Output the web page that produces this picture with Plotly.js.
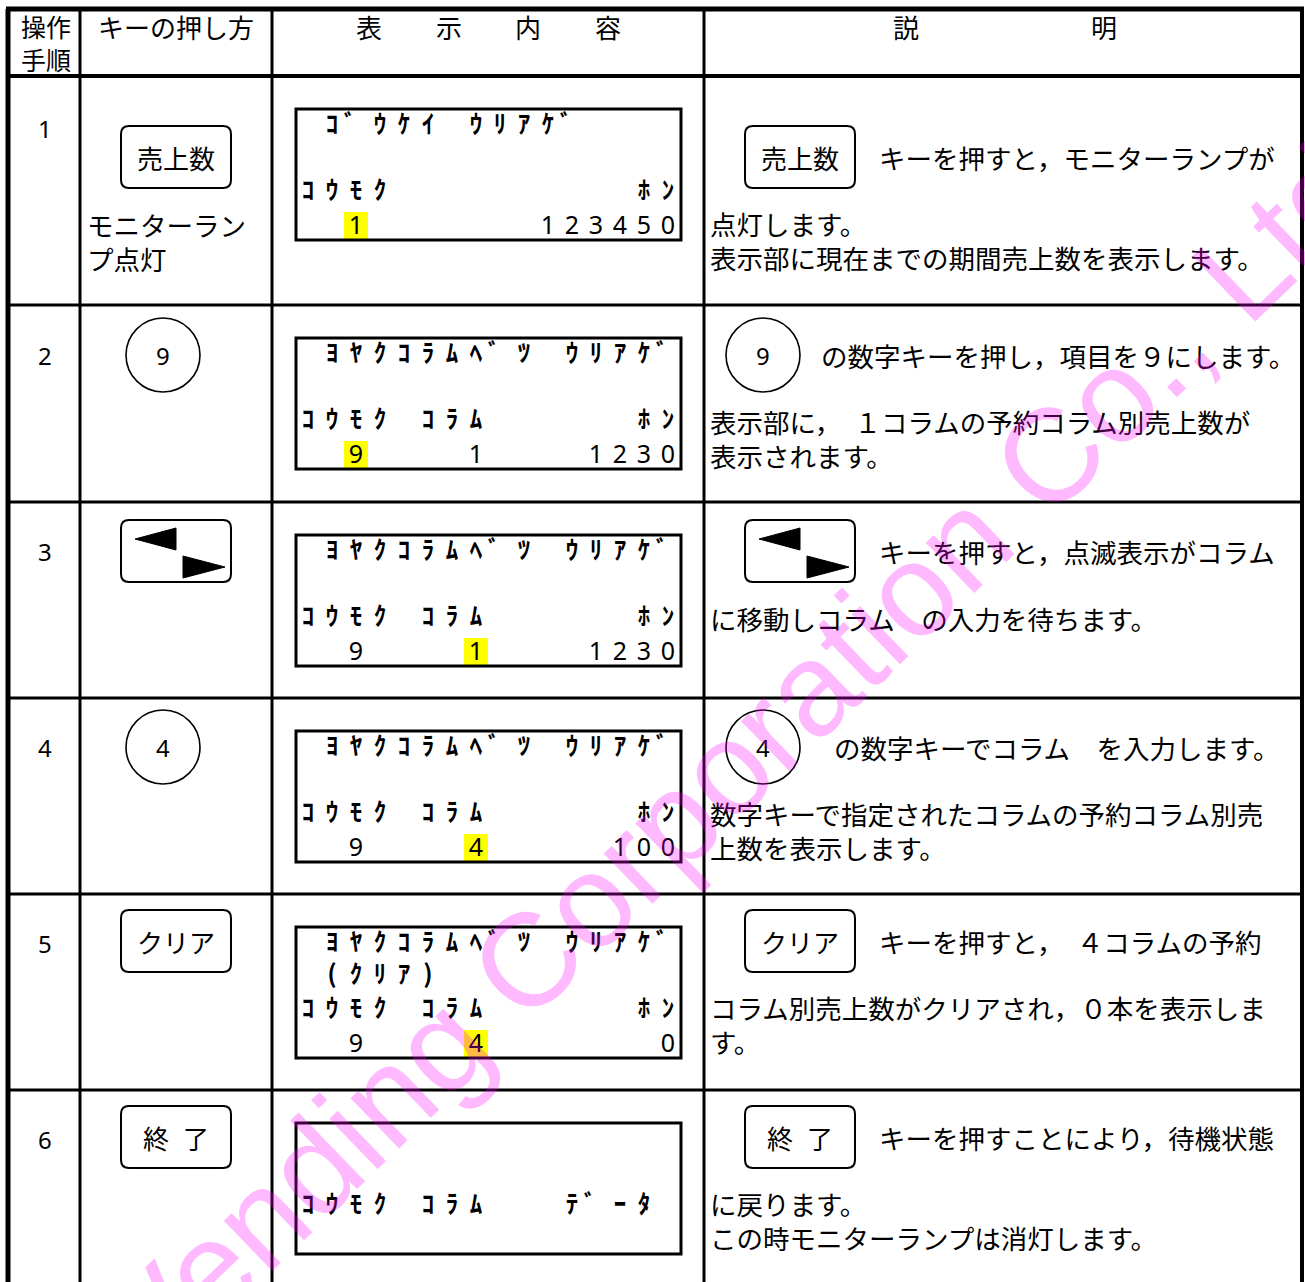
<!DOCTYPE html>
<html><head><meta charset="utf-8">
<script src="https://cdn.plot.ly/plotly-3.0.1.min.js"></script>
<style>html,body{margin:0;padding:0;background:#fff;} #chart{width:1305px;height:1282px;}</style>
</head><body><div id="chart"></div>
<script>
// ---------- data ----------
const steps = ['1','2','3','4','5','6'];
const headerStep = ['操作','手順'];
const headerKey = 'キーの押し方';
const headerDisplay = ['表','示','内','容'];
const headerDesc = ['説','明'];
const keyTypes = ['rect','circle','arrows','circle','rect','rect'];
const keyLabels = ['売上数','9','','4','クリア','終 了'];
const keyNotes = [['モニターラン','プ点灯'],[],[],[],[],[]];
const lcdLines = [
  [' ｺﾞｳｹｲ ｳﾘｱｹﾞ', '', 'ｺｳﾓｸ          ﾎﾝ', '  1       123450'],
  [' ﾖﾔｸｺﾗﾑﾍﾞﾂ ｳﾘｱｹﾞ', '', 'ｺｳﾓｸ ｺﾗﾑ      ﾎﾝ', '  9    1    1230'],
  [' ﾖﾔｸｺﾗﾑﾍﾞﾂ ｳﾘｱｹﾞ', '', 'ｺｳﾓｸ ｺﾗﾑ      ﾎﾝ', '  9    1    1230'],
  [' ﾖﾔｸｺﾗﾑﾍﾞﾂ ｳﾘｱｹﾞ', '', 'ｺｳﾓｸ ｺﾗﾑ      ﾎﾝ', '  9    4     100'],
  [' ﾖﾔｸｺﾗﾑﾍﾞﾂ ｳﾘｱｹﾞ', ' (ｸﾘｱ)', 'ｺｳﾓｸ ｺﾗﾑ      ﾎﾝ', '  9    4       0'],
  ['', '', 'ｺｳﾓｸ ｺﾗﾑ   ﾃﾞｰﾀ', '']
];
const blinkLine = [3,3,3,3,3,null];
const blinkCol  = [2,2,7,7,7,null];
const descFirst = [
  'キーを押すと，モニターランプが',
  'の数字キーを押し，項目を９にします。',
  'キーを押すと，点滅表示がコラム',
  'の数字キーでコラム　を入力します。',
  'キーを押すと，　４コラムの予約',
  'キーを押すことにより，待機状態'
];
const descRest = [
  ['点灯します。','表示部に現在までの期間売上数を表示します。'],
  ['表示部に，　１コラムの予約コラム別売上数が','表示されます。'],
  ['に移動しコラム　の入力を待ちます。'],
  ['数字キーで指定されたコラムの予約コラム別売','上数を表示します。'],
  ['コラム別売上数がクリアされ，０本を表示しま','す。'],
  ['に戻ります。','この時モニターランプは消灯します。']
];
const watermark = 'Vending Corporation Co., Ltd';

// ---------- geometry ----------
const W = 1305, H = 1282;
const JP = 'Noto Sans CJK JP';
const colX = [8, 80, 272, 704, 1302];
const colW = [5, 3, 3, 3, 4];
const rowTop = [76, 305, 502, 698, 894, 1090];
const keyRectCx = 176, keyCircleCx = 163;
const keyY = [157, 355, 551, 747, 941, 1137];
const stepY = [128, 355, 551, 747, 943, 1139];
const lcdX0 = 296, lcdX1 = 681, lcdTopOff = 33, lcdH = 131;
const cellX0 = 308, cellW = 24;
const lineOff = [20, 52, 86, 119];
const descKeyCx = 800, descCircleCx = 763;
const descFirstX = [878, 820, 878, 833, 878, 878];
const descX = 709;
const boxW = 110, boxH = 62, circR = 37;
const DS = 26.5, LH = 32;

const shapes = [];
const annotations = [];

function line(x0,y0,x1,y1,w){ shapes.push({type:'line',xref:'x',yref:'y',x0,y0,x1,y1,line:{color:'#000',width:w}}); }
function rrect(cx,cy,w,h,r){
  const x0=cx-w/2,x1=cx+w/2,y0=cy-h/2,y1=cy+h/2;
  const p=`M ${x0+r},${y0} L ${x1-r},${y0} Q ${x1},${y0} ${x1},${y0+r} L ${x1},${y1-r} Q ${x1},${y1} ${x1-r},${y1} L ${x0+r},${y1} Q ${x0},${y1} ${x0},${y1-r} L ${x0},${y0+r} Q ${x0},${y0} ${x0+r},${y0} Z`;
  shapes.push({type:'path',xref:'x',yref:'y',path:p,line:{color:'#000',width:2},fillcolor:'rgba(0,0,0,0)'});
}
function circle(cx,cy,r){ shapes.push({type:'circle',xref:'x',yref:'y',x0:cx-r,x1:cx+r,y0:cy-r,y1:cy+r,line:{color:'#000',width:1.6}}); }
function tri(pts){ shapes.push({type:'path',xref:'x',yref:'y',path:'M '+pts.map(p=>p.join(',')).join(' L ')+' Z',fillcolor:'#000',line:{color:'#000',width:1}}); }
function text(x,y,t,opt){
  opt = opt||{};
  annotations.push({xref:'x',yref:'y',x,y,text:t,showarrow:false,xanchor:opt.xa||'center',yanchor:'middle',align:opt.xa||'center',
    font:{family:opt.family||JP,size:opt.size||26,color:'#000'},borderpad:0});
}
// multi-line block: first line centred near yFirst, lines LH apart in the reference
function block(x,yFirst,lines,opt){
  if(!lines.length) return;
  text(x,yFirst+(lines.length-1)*LH/2,lines.join('<br>'),opt);
}
function keyIcon(type,label,cxRect,cxCircle,cy){
  if(type==='circle'){ circle(cxCircle,cy,circR); text(cxCircle,cy,label,{family:'Noto Sans',size:24}); }
  else {
    const cx=cxRect;
    rrect(cx,cy,boxW,boxH,8);
    if(type==='arrows'){
      const x0=cx-boxW/2, y0=cy-boxH/2;
      tri([[x0+14,y0+19],[x0+55,y0+8],[x0+55,y0+30]]);
      tri([[x0+62,y0+36],[x0+62,y0+58],[x0+104,y0+47]]);
    } else if(label.indexOf(' ')>=0){
      const parts=label.split(' ');
      text(cx-20,cy,parts[0]); text(cx+20,cy,parts[1]);
    } else text(cx,cy,label);
  }
}

// grid
for(let i=0;i<colX.length;i++) line(colX[i],9,colX[i],H+5,colW[i]);
line(6,9,1304,9,5);
line(6,76,1304,76,4);
for(let r=1;r<rowTop.length;r++) line(6,rowTop[r],1304,rowTop[r],3);

// header
block(46,26,headerStep,{size:25});
text(176,26,headerKey);
headerDisplay.forEach((c,i)=>text(369+i*79.7,26,c));
headerDesc.forEach((c,i)=>text(906+i*198,26,c));

const kx=[],ky=[],kt=[],dx=[],dy=[],dt=[];
steps.forEach((s,r)=>{
  text(45,stepY[r],s,{family:'Noto Sans',size:24});
  keyIcon(keyTypes[r],keyLabels[r],keyRectCx,keyCircleCx,keyY[r]);
  block(86,keyY[r]+68,keyNotes[r],{xa:'left',size:DS});
  const bt=rowTop[r]+lcdTopOff;
  shapes.push({type:'rect',xref:'x',yref:'y',x0:lcdX0,x1:lcdX1,y0:bt,y1:bt+lcdH,line:{color:'#000',width:3}});
  if(blinkLine[r]!==null){
    const cx=cellX0+cellW*blinkCol[r], cy=bt+lineOff[blinkLine[r]]-1;
    shapes.push({type:'rect',xref:'x',yref:'y',layer:'below',x0:cx-12,x1:cx+12,y0:cy-15,y1:cy+14,fillcolor:'#ffff00',line:{width:0}});
  }
  lcdLines[r].forEach((ln,li)=>{
    Array.from(ln).forEach((ch,ci)=>{
      if(ch===' ') return;
      let x=cellX0+cellW*ci, y=bt+lineOff[li];
      if(/[0-9]/.test(ch)){ dx.push(x); dy.push(y); dt.push(ch); }
      else { if(ch==='ﾞ') x-=6; kx.push(x); ky.push(y-2); kt.push(ch); }
    });
  });
  // description
  keyIcon(keyTypes[r],keyLabels[r],descKeyCx,descCircleCx,keyY[r]);
  text(descFirstX[r],keyY[r],descFirst[r],{xa:'left',size:DS});
  block(descX,keyY[r]+67,descRest[r],{xa:'left',size:DS});
});

annotations.push({xref:'x',yref:'y',x:735,y:760,text:watermark,showarrow:false,textangle:-44,
  font:{family:'Liberation Sans',size:132,color:'#ff00ff'},opacity:0.27,xanchor:'center',yanchor:'middle'});

const traces=[
  {type:'scatter',mode:'text',x:kx,y:ky,text:kt,textposition:'middle center',cliponaxis:false,hoverinfo:'skip',
   textfont:{family:JP,size:25,weight:700,color:'#000'},showlegend:false},
  {type:'scatter',mode:'text',x:dx,y:dy,text:dt,textposition:'middle center',cliponaxis:false,hoverinfo:'skip',
   textfont:{family:'Noto Sans',size:25,color:'#000'},showlegend:false}
];

const layout={width:W,height:H,margin:{l:0,r:0,t:0,b:0},paper_bgcolor:'#fff',plot_bgcolor:'#fff',
  xaxis:{range:[0,W],visible:false,fixedrange:true},
  yaxis:{range:[H,0],visible:false,fixedrange:true},
  shapes,annotations,showlegend:false};
Plotly.newPlot('chart',traces,layout,{staticPlot:true,displayModeBar:false});
</script></body></html>
